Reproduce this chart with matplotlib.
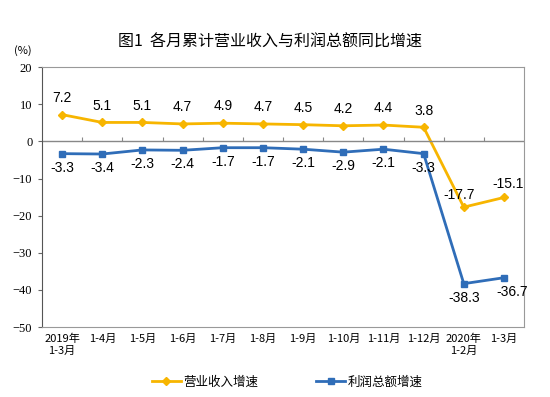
import matplotlib.pyplot as plt
import numpy as np

plt.rcParams['font.family'] = ['Noto Sans CJK SC', 'DejaVu Sans']

# 数据
months = ['2019年\n1-3月', '1-4月', '1-5月', '1-6月', '1-7月', '1-8月', '1-9月',
          '1-10月', '1-11月', '1-12月', '2020年\n1-2月', '1-3月']
revenue = [7.2, 5.1, 5.1, 4.7, 4.9, 4.7, 4.5, 4.2, 4.4, 3.8, -17.7, -15.1]
profit = [-3.3, -3.4, -2.3, -2.4, -1.7, -1.7, -2.1, -2.9, -2.1, -3.3, -38.3, -36.7]

c_rev = '#F7B500'
c_pro = '#2F6DB8'

fig = plt.figure(figsize=(5.5, 3.97), dpi=100)
ax = fig.add_axes([0.0764, 0.176, 0.8764, 0.655])

x = np.arange(len(months))
ax.plot(x, revenue, color=c_rev, lw=2, marker='D', ms=4, label='营业收入增速')
ax.plot(x, profit, color=c_pro, lw=2, marker='s', ms=4, label='利润总额增速')

lab_font = dict(family=['Liberation Sans', 'DejaVu Sans'], fontsize=10, color='black')
for i, v in enumerate(revenue):
    dx, dy = 0, 7
    if i == 10:
        dx, dy = -3, 4
    elif i == 11:
        dx, dy = 3, 5
    ax.annotate(f'{v:.1f}', (i, v), xytext=(dx, dy), textcoords='offset points',
                ha='center', va='bottom', **lab_font)
for i, v in enumerate(profit):
    dx, dy = 0, -5
    if i == 11:
        dx = 6
    ax.annotate(f'{v:.1f}', (i, v), xytext=(dx, dy), textcoords='offset points',
                ha='center', va='top', **lab_font)

ax.set_xlim(-0.5, len(months) - 0.5)
ax.set_ylim(-50, 20)
ax.set_yticks(range(-50, 21, 10))
ax.set_xticks(x)
ax.set_xticklabels(months, fontsize=8, linespacing=1.15)
ax.tick_params(axis='x', length=0, pad=5)
ax.tick_params(axis='y', labelsize=9, length=3, color='#666666', pad=4,
               labelfontfamily='Liberation Serif')

# 零轴及分类刻度
ax.axhline(0, color='#888888', lw=1)
ax.vlines(np.arange(0.5, len(months) - 1, 1), 0, 1.2, color='#888888', lw=0.8)

for s in ax.spines.values():
    s.set_color('#999999')
    s.set_linewidth(0.8)
ax.spines['left'].set_color('#555555')

ax.text(-0.058, 1.065, '(%)', transform=ax.transAxes, fontsize=8, ha='left', va='center')

fig.suptitle('图1  各月累计营业收入与利润总额同比增速', x=0.49, y=0.915, fontsize=11.5)

fig.legend(loc='center left', bbox_to_anchor=(0.276, 0.038), ncol=2, frameon=False,
           fontsize=9, columnspacing=4.6, handlelength=2.3, handletextpad=0.25,
           borderpad=0, borderaxespad=0)

fig.savefig('out.png', dpi=100)
